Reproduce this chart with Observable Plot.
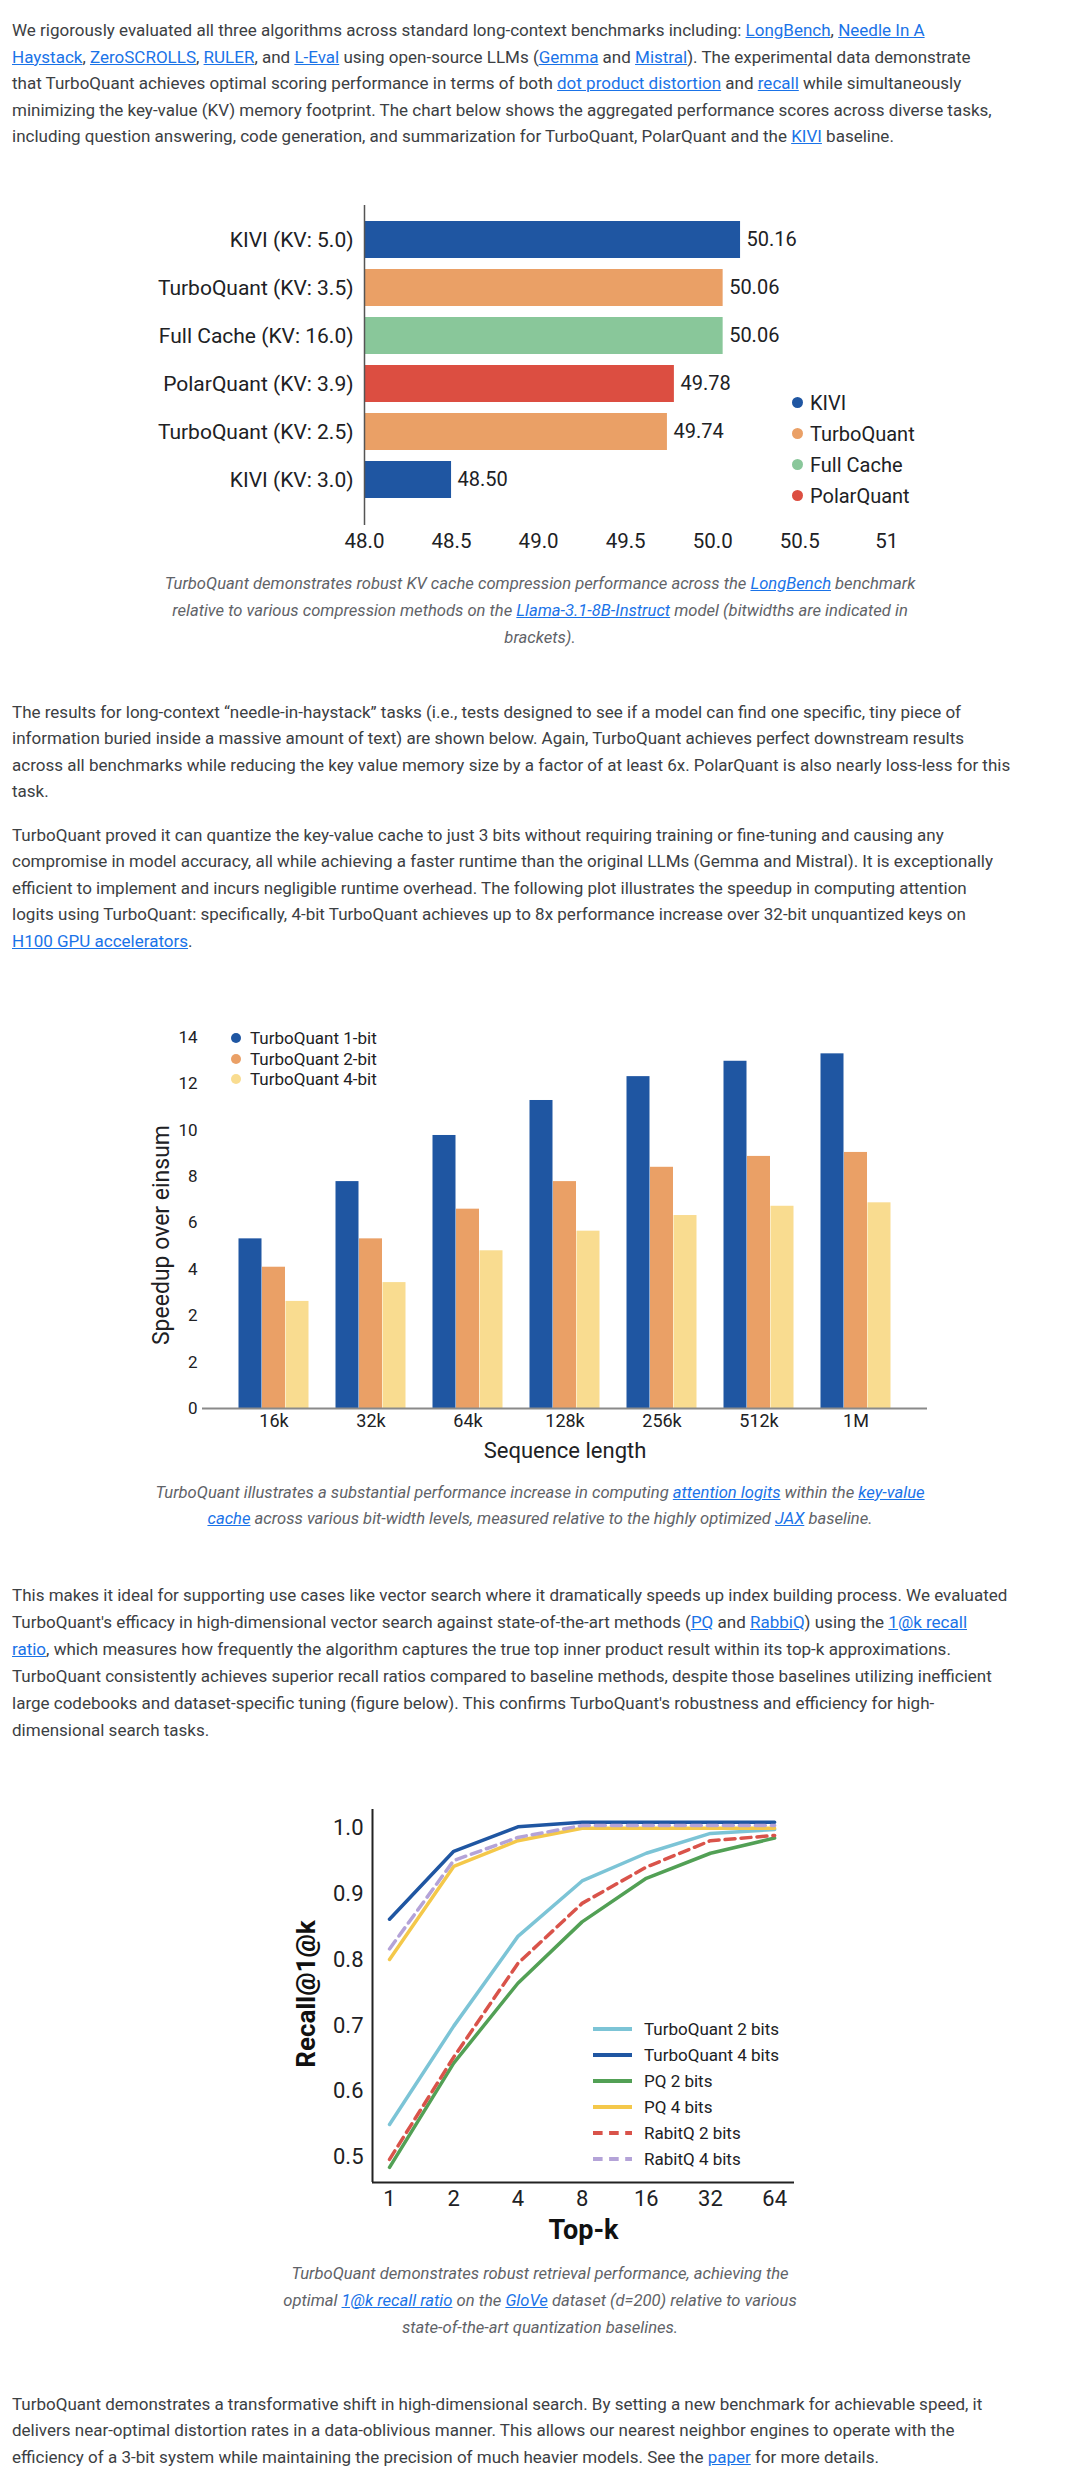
<!DOCTYPE html>
<html><head><meta charset="utf-8">
<script src="https://cdn.jsdelivr.net/npm/d3@7"></script>
<script src="https://cdn.jsdelivr.net/npm/@observablehq/plot@0.6"></script>
<style>
html,body{margin:0;padding:0;background:#fff;}
body{width:1080px;height:2484px;position:relative;overflow:hidden;font-family:Roboto,"Noto Sans",sans-serif;}
.p{position:absolute;left:12px;white-space:nowrap;font-size:17px;line-height:26.5px;color:#3c4043;}
a{color:#1a73e8;text-decoration:underline;}
.cap{position:absolute;left:0;width:1080px;text-align:center;white-space:nowrap;font-style:italic;font-size:16.6px;line-height:27px;color:#5f6368;}
.chart{position:absolute;left:0;width:1080px;}
.legend{position:absolute;color:#202124;}
.legend .it{display:flex;align-items:center;white-space:nowrap;}
.legend .dot{display:inline-block;border-radius:50%;}
</style></head>
<body>
<div class="p" style="top:17px">We rigorously evaluated all three algorithms across standard long-context benchmarks including: <a>LongBench</a>, <a>Needle In A</a><br><a>Haystack</a>, <a>ZeroSCROLLS</a>, <a>RULER</a>, and <a>L-Eval</a> using open-source LLMs (<a>Gemma</a> and <a>Mistral</a>). The experimental data demonstrate<br>that TurboQuant achieves optimal scoring performance in terms of both <a>dot product distortion</a> and <a>recall</a> while simultaneously<br>minimizing the key-value (KV) memory footprint. The chart below shows the aggregated performance scores across diverse tasks,<br>including question answering, code generation, and summarization for TurboQuant, PolarQuant and the <a>KIVI</a> baseline.</div>

<div class="chart" id="c1" style="top:190px"></div>
<div class="legend" id="l1" style="left:792px;top:387px;font-size:20px;"></div>
<div class="cap" style="top:569.5px">TurboQuant demonstrates robust KV cache compression performance across the <a>LongBench</a> benchmark<br>relative to various compression methods on the <a>Llama-3.1-8B-Instruct</a> model (bitwidths are indicated in<br>brackets).</div>

<div class="p" style="top:698.5px">The results for long-context “needle-in-haystack” tasks (i.e., tests designed to see if a model can find one specific, tiny piece of<br>information buried inside a massive amount of text) are shown below. Again, TurboQuant achieves perfect downstream results<br>across all benchmarks while reducing the key value memory size by a factor of at least 6x. PolarQuant is also nearly loss-less for this<br>task.</div>
<div class="p" style="top:821.5px">TurboQuant proved it can quantize the key-value cache to just 3 bits without requiring training or fine-tuning and causing any<br>compromise in model accuracy, all while achieving a faster runtime than the original LLMs (Gemma and Mistral). It is exceptionally<br>efficient to implement and incurs negligible runtime overhead. The following plot illustrates the speedup in computing attention<br>logits using TurboQuant: specifically, 4-bit TurboQuant achieves up to 8x performance increase over 32-bit unquantized keys on<br><a>H100 GPU accelerators</a>.</div>

<div class="chart" id="c2" style="top:1000px"></div>
<div class="legend" id="l2" style="left:231px;top:1027.75px;font-size:17px;"></div>
<div class="cap" style="top:1479.5px;line-height:26px">TurboQuant illustrates a substantial performance increase in computing <a>attention logits</a> within the <a>key-value</a><br><a>cache</a> across various bit-width levels, measured relative to the highly optimized <a>JAX</a> baseline.</div>

<div class="p" style="top:1581.5px;line-height:27px">This makes it ideal for supporting use cases like vector search where it dramatically speeds up index building process. We evaluated<br>TurboQuant's efficacy in high-dimensional vector search against state-of-the-art methods (<a>PQ</a> and <a>RabbiQ</a>) using the <a>1@k recall</a><br><a>ratio</a>, which measures how frequently the algorithm captures the true top inner product result within its top-k approximations.<br>TurboQuant consistently achieves superior recall ratios compared to baseline methods, despite those baselines utilizing inefficient<br>large codebooks and dataset-specific tuning (figure below). This confirms TurboQuant's robustness and efficiency for high-<br>dimensional search tasks.</div>

<div class="chart" id="c3" style="top:1780px"></div>
<div class="legend" id="l3" style="left:593px;top:2016px;font-size:17px;"></div>
<div class="cap" style="top:2259.5px">TurboQuant demonstrates robust retrieval performance, achieving the<br>optimal <a>1@k recall ratio</a> on the <a>GloVe</a> dataset (d=200) relative to various<br>state-of-the-art quantization baselines.</div>

<div class="p" style="top:2390.5px">TurboQuant demonstrates a transformative shift in high-dimensional search. By setting a new benchmark for achievable speed, it<br>delivers near-optimal distortion rates in a data-oblivious manner. This allows our nearest neighbor engines to operate with the<br>efficiency of a 3-bit system while maintaining the precision of much heavier models. See the <a>paper</a> for more details.</div>

<script>
// ---------- Chart 1 data ----------
const c1Labels = ["KIVI (KV: 5.0)","TurboQuant (KV: 3.5)","Full Cache (KV: 16.0)","PolarQuant (KV: 3.9)","TurboQuant (KV: 2.5)","KIVI (KV: 3.0)"];
const c1Values = [50.16, 50.06, 50.06, 49.78, 49.74, 48.50];
const c1Groups = ["KIVI","TurboQuant","Full Cache","PolarQuant","TurboQuant","KIVI"];
const c1Legend = ["KIVI","TurboQuant","Full Cache","PolarQuant"];
const c1Colors = ["#1f56a2","#eaa066","#89c79a","#dc4e41"];
const c1XTicks = [48.0, 48.5, 49.0, 49.5, 50.0, 50.5, 51];
const c1XTickLabels = ["48.0","48.5","49.0","49.5","50.0","50.5","51"];
const c1Domain = [48, 51.05];

// ---------- Chart 2 data ----------
const c2Lengths = ["16k","32k","64k","128k","256k","512k","1M"];
const c2Series = ["TurboQuant 1-bit","TurboQuant 2-bit","TurboQuant 4-bit"];
const c2Colors = ["#1f56a2","#eaa066","#f9dc90"];
const c2Bit1 = [6.40, 8.56, 10.30, 11.62, 12.52, 13.10, 13.38];
const c2Bit2 = [5.33, 6.40, 7.52, 8.56, 9.10, 9.51, 9.66];
const c2Bit4 = [4.04, 4.75, 5.95, 6.69, 7.28, 7.63, 7.76];
const c2YTicks = [0, 1.75, 3.5, 5.25, 7, 8.75, 10.5, 12.25, 14];
const c2YTickLabels = ["0","2","2","4","6","8","10","12","14"];
const c2YDomain = [0, 14.6];

// ---------- Chart 3 data ----------
const c3K = [1, 2, 4, 8, 16, 32, 64];
const c3Names = ["TurboQuant 2 bits","TurboQuant 4 bits","PQ 2 bits","PQ 4 bits","RabitQ 2 bits","RabitQ 4 bits"];
const c3Colors = ["#7cc4d6","#1f56a2","#52a055","#f4c84a","#d9534a","#b4a3d8"];
const c3Dash = [null, null, null, null, "10,6", "10,6"];
const c3TQ2 = [0.550, 0.699, 0.835, 0.919, 0.961, 0.991, 0.997];
const c3TQ4 = [0.861, 0.964, 1.001, 1.008, 1.008, 1.008, 1.008];
const c3PQ2 = [0.485, 0.643, 0.764, 0.857, 0.923, 0.961, 0.984];
const c3PQ4 = [0.800, 0.941, 0.980, 0.999, 0.999, 0.999, 0.999];
const c3RQ2 = [0.497, 0.652, 0.794, 0.885, 0.940, 0.980, 0.988];
const c3RQ4 = [0.816, 0.950, 0.985, 1.003, 1.003, 1.003, 1.003];
const c3YTicks = [0.5, 0.6, 0.7, 0.8, 0.9, 1.0];
const c3XDomain = [0.832, 79.3];
const c3YDomain = [0.462, 1.0273];

const FONT = "Roboto, 'Noto Sans', sans-serif";

// ---------- Chart 1 ----------
const rows1 = c1Labels.map((l, i) => ({label: l, value: c1Values[i], group: c1Groups[i]}));
const p1 = Plot.plot({
  width: 1080, height: 365,
  marginTop: 15, marginBottom: 30, marginLeft: 364, marginRight: 185,
  style: {fontFamily: FONT, background: "transparent", color: "#202124", overflow: "visible"},
  x: {domain: c1Domain},
  y: {domain: c1Labels, paddingInner: 0.224, paddingOuter: 0.378, align: 0.378},
  color: {domain: c1Legend, range: c1Colors},
  marks: [
    Plot.barX(rows1, {y: "label", x1: () => c1Domain[0], x2: "value", fill: "group"}),
    Plot.text(rows1, {y: "label", x: "value", text: d => d.value.toFixed(2), textAnchor: "start", dx: 6, fontSize: 20, fill: "#202124"}),
    Plot.axisY({tickSize: 0, tickPadding: 11, fontSize: 21, label: null, fill: "#202124"}),
    Plot.axisX({ticks: c1XTicks, tickFormat: d => c1XTickLabels[c1XTicks.indexOf(d)], tickSize: 0, tickPadding: 8, fontSize: 20.5, label: null, fill: "#202124", line: true, stroke: "#555", strokeWidth: 1.5}),
    Plot.ruleX([c1Domain[0]], {stroke: "#555", strokeWidth: 1.5})
  ]
});
document.getElementById("c1").appendChild(p1);

// ---------- Chart 2 ----------
const c2Arrays = [c2Bit1, c2Bit2, c2Bit4];
const c2Offsets = [-23.5, 0, 23.5];
const rows2 = c2Series.map((s, si) => c2Lengths.map((len, i) => ({len, series: s, value: c2Arrays[si][i]})));
const p2 = Plot.plot({
  width: 1080, height: 468,
  marginTop: 21, marginBottom: 60, marginLeft: 202, marginRight: 153,
  style: {fontFamily: FONT, background: "transparent", color: "#202124", overflow: "visible"},
  x: {domain: c2Lengths, paddingInner: 0.759, paddingOuter: 0.597},
  y: {domain: c2YDomain},
  marks: [
    ...rows2.map((r, si) => Plot.barY(r, {x: "len", y: "value", fill: c2Colors[si], dx: c2Offsets[si]})),
    Plot.ruleY([0], {stroke: "#8a8a8a", strokeWidth: 2}),
    Plot.axisY({ticks: c2YTicks, tickFormat: d => c2YTickLabels[c2YTicks.indexOf(d)], tickSize: 0, tickPadding: 5, fontSize: 17, label: null, fill: "#202124", line: true, stroke: "#9a9a9a"}),
    Plot.axisX({tickSize: 0, tickPadding: 6, fontSize: 18, label: null, fill: "#202124"}),
    Plot.text(["Sequence length"], {text: d => d, frameAnchor: "bottom", textAnchor: "middle", lineAnchor: "middle", dy: 42, fontSize: 22, fill: "#202124"}),
    Plot.text(["Speedup over einsum"], {text: d => d, frameAnchor: "left", textAnchor: "middle", lineAnchor: "middle", dx: -41, dy: 20, rotate: -90, fontSize: 23, fill: "#202124"})
  ]
});
document.getElementById("c2").appendChild(p2);

// ---------- Chart 3 ----------
const c3Arrays = [c3TQ2, c3TQ4, c3PQ2, c3PQ4, c3RQ2, c3RQ4];
const p3 = Plot.plot({
  width: 1080, height: 465,
  marginTop: 29, marginBottom: 63, marginLeft: 372, marginRight: 286,
  style: {fontFamily: FONT, background: "transparent", color: "#202124", overflow: "visible"},
  x: {type: "log", base: 2, domain: c3XDomain},
  y: {domain: c3YDomain},
  marks: [
    ...c3Arrays.map((arr, si) => Plot.line(c3K.map((k, i) => ({k, v: arr[i]})), {
      x: "k", y: "v", stroke: c3Colors[si], strokeWidth: 3.5, strokeDasharray: c3Dash[si] || undefined
    })),
    Plot.ruleX([c3XDomain[0]], {stroke: "#222", strokeWidth: 2}),
    Plot.ruleY([c3YDomain[0]], {stroke: "#222", strokeWidth: 2}),
    Plot.axisY({ticks: c3YTicks, tickFormat: d => d.toFixed(1), tickSize: 0, tickPadding: 9, fontSize: 22, label: null, fill: "#202124"}),
    Plot.axisX({ticks: c3K, tickFormat: d => String(d), tickSize: 0, tickPadding: 8, fontSize: 22, label: null, fill: "#202124"}),
    Plot.text(["Top-k"], {text: d => d, frameAnchor: "bottom", textAnchor: "middle", lineAnchor: "middle", dy: 48, fontSize: 27, fontWeight: "bold", fill: "#111"}),
    Plot.text(["Recall@1@k"], {text: d => d, frameAnchor: "left", textAnchor: "middle", lineAnchor: "middle", dx: -66, dy: -2, rotate: -90, fontSize: 26, fontWeight: "bold", fill: "#111"})
  ]
});
document.getElementById("c3").appendChild(p3);

// ---------- Legends ----------
function dotLegend(el, names, colors, size, lineH, gap) {
  names.forEach((n, i) => {
    const it = document.createElement("div");
    it.className = "it";
    it.style.height = lineH + "px";
    const d = document.createElement("span");
    d.className = "dot";
    d.style.width = size + "px"; d.style.height = size + "px";
    d.style.background = colors[i];
    d.style.marginRight = gap + "px";
    it.appendChild(d);
    it.appendChild(document.createTextNode(n));
    el.appendChild(it);
  });
}
dotLegend(document.getElementById("l1"), c1Legend, c1Colors, 11.4, 31, 6.6);
dotLegend(document.getElementById("l2"), c2Series, c2Colors, 10, 20.5, 9);
const l3 = document.getElementById("l3");
c3Names.forEach((n, i) => {
  const it = document.createElement("div");
  it.className = "it";
  it.style.height = "26px";
  const ns = "http://www.w3.org/2000/svg";
  const s = document.createElementNS(ns, "svg");
  s.setAttribute("width", 39); s.setAttribute("height", 6);
  s.style.marginRight = "12px";
  const ln = document.createElementNS(ns, "line");
  ln.setAttribute("x1", 0); ln.setAttribute("x2", 39);
  ln.setAttribute("y1", 3); ln.setAttribute("y2", 3);
  ln.setAttribute("stroke", c3Colors[i]);
  ln.setAttribute("stroke-width", 4);
  if (c3Dash[i]) ln.setAttribute("stroke-dasharray", "9.6,6.5");
  s.appendChild(ln);
  it.appendChild(s);
  it.appendChild(document.createTextNode(n));
  l3.appendChild(it);
});
</script>
</body></html>
